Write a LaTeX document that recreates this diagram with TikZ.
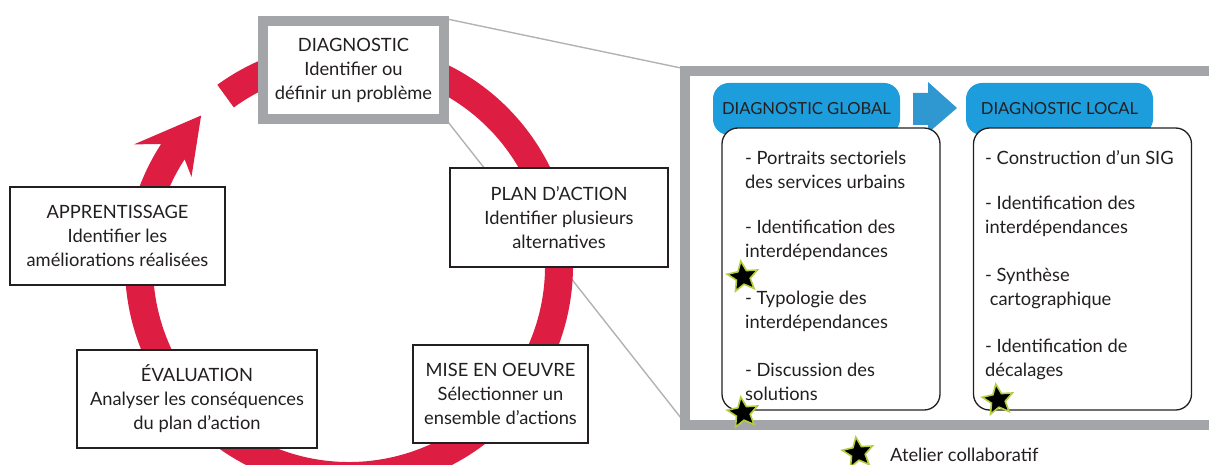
\documentclass[tikz,border=0pt]{standalone}
\usepackage{fontspec}
\setmainfont{Lato}
\usetikzlibrary{shapes.geometric}
\definecolor{ringred}{RGB}{222,29,66}
\definecolor{framegray}{RGB}{163,165,168}
\definecolor{linegray}{RGB}{178,178,178}
\definecolor{tabblue}{RGB}{29,157,219}
\definecolor{arrowblue}{RGB}{48,152,208}
\definecolor{glow}{RGB}{178,206,62}
\definecolor{ink}{RGB}{35,31,32}
\begin{document}
\begin{tikzpicture}[x=1pt,y=-1pt,
  txt/.style={font=\fontsize{18.3}{24}\selectfont, text=ink, inner sep=0pt},
  stage/.style={txt, align=center, draw=ink, line width=1.3pt, fill=white},
  tab/.style={txt, font=\fontsize{16.6}{20}\selectfont, fill=tabblue, rounded corners=16pt, minimum width=187pt, minimum height=52pt},
  listbox/.style={draw=ink, line width=1.3pt, fill=white, rounded corners=16pt, minimum width=218pt, minimum height=282pt},
  item/.style={txt, align=left, anchor=west},
  atelier/.style={star, star points=5, star point ratio=2.2, minimum size=32pt, inner sep=0pt, fill=black, draw=glow, line width=1.6pt},
  zoomline/.style={draw=linegray, line width=1.4pt}
]
\useasboundingbox (0,0) rectangle (1209,465);

% connector lines
\coordinate (ftl) at (681,68);
\coordinate (fbl) at (681,418);
\coordinate (dne) at (447,19);
\coordinate (dse) at (448,122);
\draw[zoomline] (dne) -- (ftl);
\draw[zoomline] (dse) -- (fbl);

% red cycle arrow
\begin{scope}[shift={(349,266)}]
\fill[ringred] (126:224pt) arc[start angle=126, end angle=-213, radius=224pt]
  -- (-209.5:247pt) -- (-225.5:211pt) -- (-209.5:181pt) -- (-213:196pt)
  arc[start angle=-213, end angle=126, radius=196pt] -- cycle;
\end{scope}

% stages
\node[txt, align=center, draw=framegray, line width=10pt, fill=white, minimum width=181pt, minimum height=98pt] (diag) at (353.5,70)
  {DIAGNOSTIC\\Identifier ou\\définir un problème};
\node[stage, minimum width=215pt, minimum height=98pt] (appr) at (117.5,236)
  {APPRENTISSAGE\\Identifier les\\améliorations réalisées};
\node[stage, minimum width=240pt, minimum height=98pt] (eval) at (197,399)
  {ÉVALUATION\\Analyser les conséquences\\du plan d’action};
\node[stage, minimum width=218pt, minimum height=99pt] (plan) at (559,217.5)
  {PLAN D’ACTION\\Identifier plusieurs\\alternatives};
\node[stage, minimum width=175pt, minimum height=98pt] (mise) at (500.5,394)
  {MISE EN OEUVRE\\Sélectionner un\\ensemble d’actions};

% zoom frame
\node[draw=framegray, line width=10pt, minimum width=545pt, minimum height=354pt, inner sep=0pt] (frame) at (957.5,248) {};

% tabs
\node[tab] (tglobal) at (806.5,109) {\raisebox{-1pt}{DIAGNOSTIC GLOBAL}};
\node[tab] (tlocal) at (1059.5,109) {\raisebox{-1pt}{DIAGNOSTIC LOCAL}};
\fill[arrowblue] (913,93) -- (928,93) -- (928,82) -- (957,108) -- (928,133) -- (928,125) -- (913,125) -- cycle;

% list boxes
\node[listbox] (bglobal) at (831,269) {};
\node[listbox] (blocal) at (1082.5,269) {};

\node[item] (g1) at (745,170) {- Portraits sectoriels\\des services urbains};
\node[item] (g2) at (745,240) {- Identification des\\interdépendances};
\node[item] (g3) at (745,311) {- Typologie des\\interdépendances};
\node[item] (g4) at (745,381.5) {- Discussion des\\solutions};

\node[item] (l1) at (985,158) {- Construction d’un SIG};
\node[item] (l2) at (985,216.5) {- Identification des\\interdépendances};
\node[item] (l3) at (985,288) {- Synthèse\\\ cartographique};
\node[item] (l4) at (985,359) {- Identification de\\décalages};

% stars
\node[atelier, rotate=8] (s1) at (743,277) {};
\node[atelier, rotate=8] (s2) at (743,413) {};
\node[atelier, rotate=8] (s3) at (998,400) {};
\node[atelier, rotate=8] (s4) at (858,453) {};
\node[txt, anchor=west] (legend) at (890,455) {Atelier collaboratif};
\end{tikzpicture}
\end{document}
